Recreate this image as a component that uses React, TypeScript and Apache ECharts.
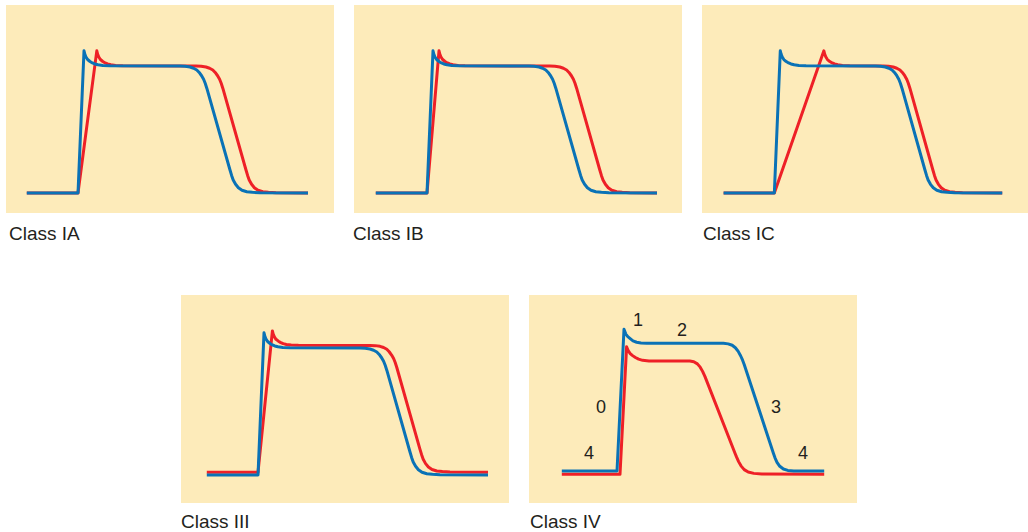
import React, { useEffect, useRef } from "react";
import * as echarts from "echarts";

// time in ms (0 = start of upstroke), membrane potential in mV
const T_MIN = -90;
const T_MAX = 320;
const V_MIN = -107;
const V_MAX = 70;

const classNames = ["Class IA", "Class IB", "Class IC", "Class III", "Class IV"];
const phaseLabels = ["4", "0", "1", "2", "3", "4"];

// control (blue) action potential, used in IA, IB, IC, III
const controlAP: [number, number][] = [
  [-64, -90], [0, -90], [7.5, 31], [8.5, 28.2], [10, 25.7], [12, 23.6], [15, 21.9], [18, 20.7],
  [21, 19.8], [25, 19.1], [31, 18.6], [40, 18.3],
  [127.5, 18], [134, 17.8], [140, 17.2], [144.5, 16.2], [148.5, 14.7], [151.5, 12.6],
  [154.5, 9.8], [157, 6.8], [159, 3.4], [161, -0.8],
  [190, -70.4], [192, -75], [194, -78.9], [197, -82.6], [200.5, -85.5], [205, -87.6],
  [211, -88.9], [218, -89.4], [227.5, -89.7], [287.5, -90],
];

const drugIA: [number, number][] = [
  [-64, -90], [0, -90], [23.5, 31], [24.5, 28.2], [26, 25.7], [28, 23.6], [31, 21.9], [34, 20.7],
  [37, 19.8], [41, 19.1], [47, 18.6], [56, 18.3],
  [147.5, 18], [154, 17.8], [160, 17.2], [164.5, 16.2], [168.5, 14.7], [171.5, 12.6],
  [174.5, 9.8], [177, 6.8], [179, 3.4], [181, -0.8],
  [210, -70.4], [212, -75], [214, -78.9], [217, -82.6], [220.5, -85.5], [225, -87.6],
  [231, -88.9], [238, -89.4], [247.5, -89.7], [287.5, -90],
];

const drugIB: [number, number][] = [
  [-64, -90], [0, -90], [15, 31], [16, 28.2], [17.5, 25.7], [19.5, 23.6], [22.5, 21.9], [25.5, 20.7],
  [28.5, 19.8], [32.5, 19.1], [38.5, 18.6], [47.5, 18.3],
  [153.5, 18], [160, 17.8], [166, 17.2], [170.5, 16.2], [174.5, 14.7], [177.5, 12.6],
  [180.5, 9.8], [183, 6.8], [185, 3.4], [187, -0.8],
  [216, -70.4], [218, -75], [220, -78.9], [223, -82.6], [226.5, -85.5], [231, -87.6],
  [237, -88.9], [244, -89.4], [253.5, -89.7], [287.5, -90],
];

const drugIC: [number, number][] = [
  [-64, -90], [0, -90], [62.5, 31], [63.5, 28.2], [65, 25.7], [67, 23.6], [70, 21.9], [73, 20.7],
  [76, 19.8], [80, 19.1], [86, 18.6], [95, 18.3],
  [137.5, 18], [144, 17.8], [150, 17.2], [154.5, 16.2], [158.5, 14.7], [161.5, 12.6],
  [164.5, 9.8], [167, 6.8], [169, 3.4], [171, -0.8],
  [200, -70.4], [202, -75], [204, -78.9], [207, -82.6], [210.5, -85.5], [215, -87.6],
  [221, -88.9], [228, -89.4], [237.5, -89.7], [287.5, -90],
];

const drugIII: [number, number][] = [
  [-64, -87.7], [0, -87.7], [18, 32.6], [19, 29.9], [20.5, 27.5], [22.5, 25.5], [25.5, 23.9],
  [28.5, 22.7], [31.5, 21.8], [35.5, 21.1], [41.5, 20.7], [50.5, 20.5],
  [140, 20.3], [146.5, 20.1], [152.5, 19.5], [157, 18.5], [161, 17], [164, 14.9],
  [167, 12.1], [169.5, 9.1], [171.5, 5.7], [173.5, 1.5],
  [202.5, -68.1], [204.5, -72.7], [206.5, -76.6], [209.5, -80.3], [213, -83.2], [217.5, -85.3],
  [223.5, -86.6], [230.5, -87.1], [240, -87.4], [287.5, -87.7],
];

const controlIV: [number, number][] = [
  [-69, -90], [0, -90], [8.75, 30.6], [11, 26.5], [13.5, 24.3], [16.5, 22.6], [20, 20.7],
  [24.5, 19.6], [30, 19], [37, 18.7],
  [133, 18.7], [139, 18.2], [144, 17], [148, 14.9], [151.5, 11.8], [154.5, 8.1], [157, 4.3], [159, 0.7],
  [195.5, -74.9], [197.5, -78.8], [200, -82.6], [203.5, -86], [208, -88.3], [213.5, -89.5],
  [221, -89.9], [259, -90],
];

const drugIV: [number, number][] = [
  [-69, -92.8], [3.75, -92.8], [12, 15.8], [14, 12.4], [16.5, 10], [19.5, 8.2], [23, 6.6],
  [27, 5.2], [32, 4.2], [40, 3.7],
  [91, 3.6], [96, 3], [100.5, 1.2], [104, -1.6], [107, -5.2], [110, -9.7],
  [147.5, -74.9], [149.5, -78.2], [152, -82], [155, -85.6], [159, -88.8], [164, -90.9],
  [171, -92], [181, -92.5], [259, -92.8],
];

const controlSeries = [controlAP, controlAP, controlAP, controlAP, controlIV];
const drugSeries = [drugIA, drugIB, drugIC, drugIII, drugIV];

// layout: panel boxes and drawing offsets (px)
const panelLayout = [
  { x: 6, y: 5, dx: 0, dy: 0, lx: 9, ly: 233 },
  { x: 354, y: 5, dx: 1, dy: 0, lx: 353, ly: 233 },
  { x: 702, y: 5, dx: 1, dy: 0, lx: 703, ly: 233 },
  { x: 181, y: 295, dx: 5, dy: -8, lx: 181, ly: 521 },
  { x: 529, y: 295, dx: 16, dy: -12, lx: 530, ly: 521 },
];
const PANEL_W = 328;
const PANEL_H = 208;

const phaseLabelPos = [
  [589, 453],
  [601, 407],
  [638, 320],
  [682, 330],
  [776, 407],
  [803, 453],
];

const BG = "#FDEBBA";
const BLUE = "#0A72B6";
const RED = "#EE2027";
const TEXT = "#231F20";
const FONT = '"Liberation Sans", Arial, Helvetica, sans-serif';

export default function App() {
  const ref = useRef<HTMLDivElement>(null);
  useEffect(() => {
    if (!ref.current) return;
    const chart = echarts.init(ref.current, undefined, { renderer: "svg" });

    const grids = panelLayout.map((p) => ({
      left: p.x + p.dx,
      top: p.y + p.dy,
      width: PANEL_W,
      height: PANEL_H,
      containLabel: false,
    }));
    const xAxes = panelLayout.map((_, i) => ({
      type: "value",
      gridIndex: i,
      min: T_MIN,
      max: T_MAX,
      show: false,
    }));
    const yAxes = panelLayout.map((_, i) => ({
      type: "value",
      gridIndex: i,
      min: V_MIN,
      max: V_MAX,
      show: false,
    }));
    const series: any[] = [];
    panelLayout.forEach((_, i) => {
      series.push({
        type: "line",
        xAxisIndex: i,
        yAxisIndex: i,
        data: drugSeries[i],
        showSymbol: false,
        symbol: "none",
        silent: true,
        z: 2,
        lineStyle: { color: RED, width: 3, join: "round", cap: "butt" },
        itemStyle: { color: RED },
      });
      series.push({
        type: "line",
        xAxisIndex: i,
        yAxisIndex: i,
        data: controlSeries[i],
        showSymbol: false,
        symbol: "none",
        silent: true,
        z: 3,
        lineStyle: { color: BLUE, width: 3, join: "round", cap: "butt" },
        itemStyle: { color: BLUE },
      });
    });

    const graphic: any[] = [];
    panelLayout.forEach((p, i) => {
      graphic.push({
        type: "rect",
        z: 0,
        silent: true,
        shape: { x: p.x, y: p.y, width: PANEL_W, height: PANEL_H },
        style: { fill: BG },
      });
      graphic.push({
        type: "text",
        z: 100,
        silent: true,
        x: p.lx,
        y: p.ly,
        style: {
          text: classNames[i],
          fill: TEXT,
          font: `19px ${FONT}`,
          align: "left",
          verticalAlign: "middle",
        },
      });
    });
    phaseLabels.forEach((t, i) => {
      graphic.push({
        type: "text",
        z: 100,
        silent: true,
        x: phaseLabelPos[i][0],
        y: phaseLabelPos[i][1],
        style: {
          text: t,
          fill: TEXT,
          font: `18px ${FONT}`,
          align: "center",
          verticalAlign: "middle",
        },
      });
    });

    chart.setOption({
      animation: false,
      backgroundColor: "#ffffff",
      grid: grids,
      xAxis: xAxes,
      yAxis: yAxes,
      series,
      graphic,
    });
    return () => chart.dispose();
  }, []);
  return (
    <div
      ref={ref}
      style={{ position: "fixed", left: 0, top: 0, width: 1028, height: 532 }}
    />
  );
}
